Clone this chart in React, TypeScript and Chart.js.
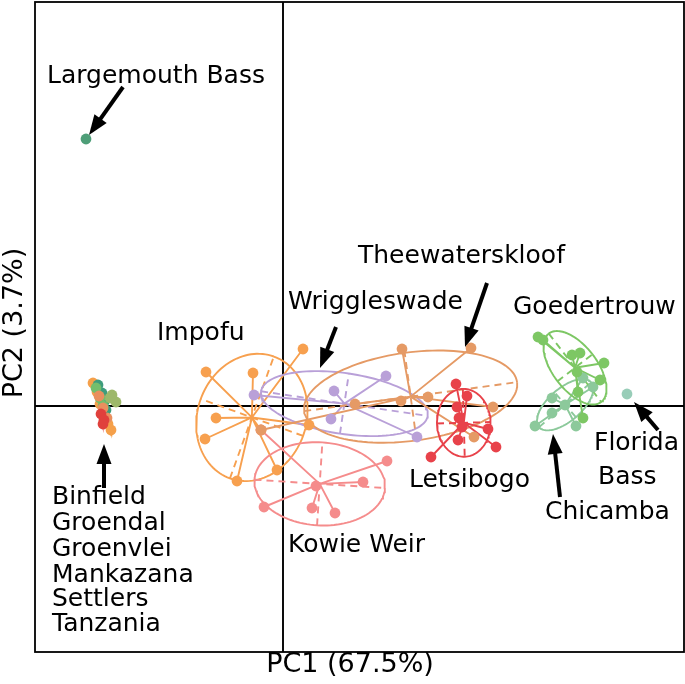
import React, { useEffect, useRef } from 'react';
import { Chart, registerables } from 'chart.js';

Chart.register(...registerables);

type P = [number, number];

// PCA scores (arbitrary PC units), one list per population
const impofu: P[] = [[-77, 34], [-30, 33], [20, 57], [-67, -12], [-78, -33], [-46, -75], [-6, -64], [26, -19], [-22, -24]];
const wriggleswade: P[] = [[-29, 11], [51, 15], [103, 30], [48, -13], [134, -31]];
const theewaterskloof: P[] = [[119, 57], [188, 58], [72, 2], [118, 5], [145, 9], [210, -1], [191, -31], [-22, -24]];
const kowieWeir: P[] = [[104, -55], [80, -76], [-19, -101], [29, -102], [52, -107], [-22, -24], [33, -80]];
const letsibogo: P[] = [[173, 22], [184, 10], [174, -1], [176, -12], [179, -21], [205, -23], [175, -34], [213, -41], [148, -51]];
const goedertrouw: P[] = [[255, 69], [260, 66], [289, 51], [297, 53], [321, 43], [317, 26], [295, 14], [300, -12], [294, 34]];
const chicamba: P[] = [[310, 19], [269, 8], [282, 1], [269, -7], [252, -20], [293, -20], [300, 28]];
const floridaBass: P[] = [[344, 12]];
const largemouthBass: P[] = [[-197, 267]];
const binfield: P[] = [[-190, 23], [-186, 14], [-183, 2], [-179, -9], [-175, -18], [-172, -24]];
const groendal: P[] = [[-185, 21], [-181, 13], [-179, 4], [-177, -4]];
const groenvlei: P[] = [[-173, 8], [-167, 4], [-171, 11]];
const mankazana: P[] = [[-182, -8], [-179, -14], [-180, -18]];
const settlers: P[] = [[-184, 10], [-180, -2], [-176, -12]];
const tanzania: P[] = [[-187, 18], [-183, 8], [-180, 0]];

const groupNames = ['Binfield', 'Groendal', 'Groenvlei', 'Tanzania', 'Settlers', 'Mankazana', 'Largemouth Bass', 'Impofu', 'Kowie Weir', 'Wriggleswade', 'Theewaterskloof', 'Letsibogo', 'Chicamba', 'Goedertrouw', 'Florida Bass'];
const groupPoints: P[][] = [binfield, groendal, groenvlei, tanzania, settlers, mankazana, largemouthBass, impofu, kowieWeir, wriggleswade, theewaterskloof, letsibogo, chicamba, goedertrouw, floridaBass];
const groupColors = ['#F5A04A', '#3E9C7C', '#9DB86A', '#74BE6C', '#E98F5E', '#E0403C', '#4E9E78', '#F7A04F', '#F58C8C', '#B9A0D8', '#E59A65', '#E8424A', '#8CC99B', '#7DC764', '#98CDB8'];

// axis extents and titles
const xRange: P = [-248, 401];
const yRange: P = [-246, 404];
const xTitle = 'PC1 (67.5%)';
const yTitle = 'PC2 (3.7%)';
const xTitlePos: P = [67, -259];
const yTitlePos: P = [-268, 83];

// annotation text positions (left edge, vertical centre)
const labelTexts = ['Largemouth Bass', 'Impofu', 'Wriggleswade', 'Theewaterskloof', 'Goedertrouw', 'Florida', 'Bass', 'Letsibogo', 'Chicamba', 'Kowie Weir', 'Binfield', 'Groendal', 'Groenvlei', 'Mankazana', 'Settlers', 'Tanzania'];
const labelX = [-236, -126, 5, 75, 230, 311, 315, 126, 262, 5, -231, -231, -231, -231, -231, -231];
const labelY = [330, 73, 104, 150, 99, -37, -71, -74, -106, -139, -91, -117, -143, -169, -193, -218];

// arrows: tail -> tip
const arrowTails: P[] = [[-160, 319], [-179, -82], [53, 79], [204, 123], [375, -24], [277, -91]];
const arrowTips: P[] = [[-194, 271], [-179, -38], [37, 38], [182, 59], [351, 4], [270, -28]];

const ELLIPSE_SCALE = 1.5;
const GAP = { x: NaN, y: NaN };

function groupStats(pts: P[]) {
  const n = pts.length;
  const mx = pts.reduce((s, p) => s + p[0], 0) / n;
  const my = pts.reduce((s, p) => s + p[1], 0) / n;
  let sxx = 0, syy = 0, sxy = 0;
  pts.forEach(([x, y]) => {
    sxx += (x - mx) * (x - mx);
    syy += (y - my) * (y - my);
    sxy += (x - mx) * (y - my);
  });
  sxx /= n; syy /= n; sxy /= n;
  const tr = (sxx + syy) / 2;
  const d = Math.sqrt(((sxx - syy) / 2) ** 2 + sxy * sxy);
  const l1 = Math.max(tr + d, 0);
  const l2 = Math.max(tr - d, 0);
  const theta = 0.5 * Math.atan2(2 * sxy, sxx - syy);
  return { mx, my, a: ELLIPSE_SCALE * Math.sqrt(l1), b: ELLIPSE_SCALE * Math.sqrt(l2), theta };
}

function buildDatasets() {
  const ds: any[] = [];
  ds.push({ label: 'PC1 = 0', data: [{ x: xRange[0], y: 0 }, { x: xRange[1], y: 0 }], showLine: true, borderColor: '#000', borderWidth: 1.9, pointRadius: 0, order: 100 });
  ds.push({ label: 'PC2 = 0', data: [{ x: 0, y: yRange[0] }, { x: 0, y: yRange[1] }], showLine: true, borderColor: '#000', borderWidth: 1.9, pointRadius: 0, order: 100 });

  groupPoints.forEach((pts, gi) => {
    const color = groupColors[gi];
    const s = groupStats(pts);
    const lineBase = { showLine: true, borderColor: color, borderWidth: 1.9, pointRadius: 0, spanGaps: false, order: 10 - gi * 0.01 };
    if (pts.length > 1) {
      const spokes: any[] = [];
      pts.forEach(([x, y]) => { spokes.push({ x: s.mx, y: s.my }, { x, y }, GAP); });
      ds.push({ ...lineBase, label: groupNames[gi] + ' star', data: spokes });
    }
    if (pts.length > 2 && s.b > 0.01) {
      const ell: any[] = [];
      const c = Math.cos(s.theta), sn = Math.sin(s.theta);
      for (let i = 0; i <= 120; i++) {
        const t = (i / 120) * Math.PI * 2;
        const ex = s.a * Math.cos(t), ey = s.b * Math.sin(t);
        ell.push({ x: s.mx + ex * c - ey * sn, y: s.my + ex * sn + ey * c });
      }
      ds.push({ ...lineBase, label: groupNames[gi] + ' ellipse', data: ell });
      const axes = [
        { x: s.mx - s.a * c, y: s.my - s.a * sn }, { x: s.mx + s.a * c, y: s.my + s.a * sn }, GAP,
        { x: s.mx + s.b * sn, y: s.my - s.b * c }, { x: s.mx - s.b * sn, y: s.my + s.b * c },
      ];
      ds.push({ ...lineBase, label: groupNames[gi] + ' axes', data: axes, borderDash: [7, 5] });
    }
    ds.push({
      label: groupNames[gi], data: pts.map(([x, y]) => ({ x, y })), pointRadius: 5.4,
      pointBackgroundColor: color, pointBorderWidth: 0, showLine: false, order: 1 - gi * 0.01,
    });
  });
  return ds;
}

const overlayPlugin = {
  id: 'overlay',
  afterDatasetsDraw(chart: any) {
    const { ctx, chartArea } = chart;
    const xs = chart.scales.x, ys = chart.scales.y;
    const px = (v: number) => xs.getPixelForValue(v);
    const py = (v: number) => ys.getPixelForValue(v);
    ctx.save();
    ctx.fillStyle = '#000';
    ctx.strokeStyle = '#000';
    // arrows
    arrowTails.forEach((tail, i) => {
      const tip = arrowTips[i];
      const x0 = px(tail[0]), y0 = py(tail[1]);
      const x1 = px(tip[0]), y1 = py(tip[1]);
      const ang = Math.atan2(y1 - y0, x1 - x0);
      const headLen = 20, headW = 7.5;
      const bx = x1 - headLen * Math.cos(ang), by = y1 - headLen * Math.sin(ang);
      ctx.lineWidth = 4;
      ctx.beginPath();
      ctx.moveTo(x0, y0);
      ctx.lineTo(bx + 3 * Math.cos(ang), by + 3 * Math.sin(ang));
      ctx.stroke();
      ctx.beginPath();
      ctx.moveTo(x1, y1);
      ctx.lineTo(bx - headW * Math.sin(ang), by + headW * Math.cos(ang));
      ctx.lineTo(bx + headW * Math.sin(ang), by - headW * Math.cos(ang));
      ctx.closePath();
      ctx.fill();
    });
    // labels
    ctx.font = '25px "DejaVu Sans"';
    ctx.textAlign = 'left';
    ctx.textBaseline = 'middle';
    labelTexts.forEach((t, i) => ctx.fillText(t, px(labelX[i]), py(labelY[i])));
    // axis titles
    ctx.font = '27px "DejaVu Sans"';
    ctx.textAlign = 'center';
    ctx.fillText(xTitle, px(xTitlePos[0]), py(xTitlePos[1]));
    ctx.save();
    ctx.translate(px(yTitlePos[0]), py(yTitlePos[1]));
    ctx.rotate(-Math.PI / 2);
    ctx.fillText(yTitle, 0, 0);
    ctx.restore();
    // frame
    ctx.lineWidth = 1.8;
    ctx.strokeRect(chartArea.left, chartArea.top, chartArea.right - chartArea.left, chartArea.bottom - chartArea.top);
    ctx.restore();
  },
};

export default function App() {
  const ref = useRef<HTMLCanvasElement>(null);
  useEffect(() => {
    document.body.style.margin = '0';
    const canvas = ref.current!;
    const chart = new Chart(canvas, {
      type: 'scatter',
      data: { datasets: buildDatasets() },
      options: {
        responsive: false,
        animation: false,
        events: [],
        layout: { autoPadding: false, padding: { top: 2, right: 1, left: 35, bottom: 32 } },
        plugins: { legend: { display: false }, tooltip: { enabled: false } },
        scales: {
          x: { type: 'linear', display: false, min: xRange[0], max: xRange[1] },
          y: { type: 'linear', display: false, min: yRange[0], max: yRange[1] },
        },
      },
      plugins: [overlayPlugin],
    });
    return () => chart.destroy();
  }, []);
  return (
    <div style={{ position: 'absolute', left: 0, top: 0, width: 685, height: 684, background: '#fff' }}>
      <canvas ref={ref} width={685} height={684} />
    </div>
  );
}
